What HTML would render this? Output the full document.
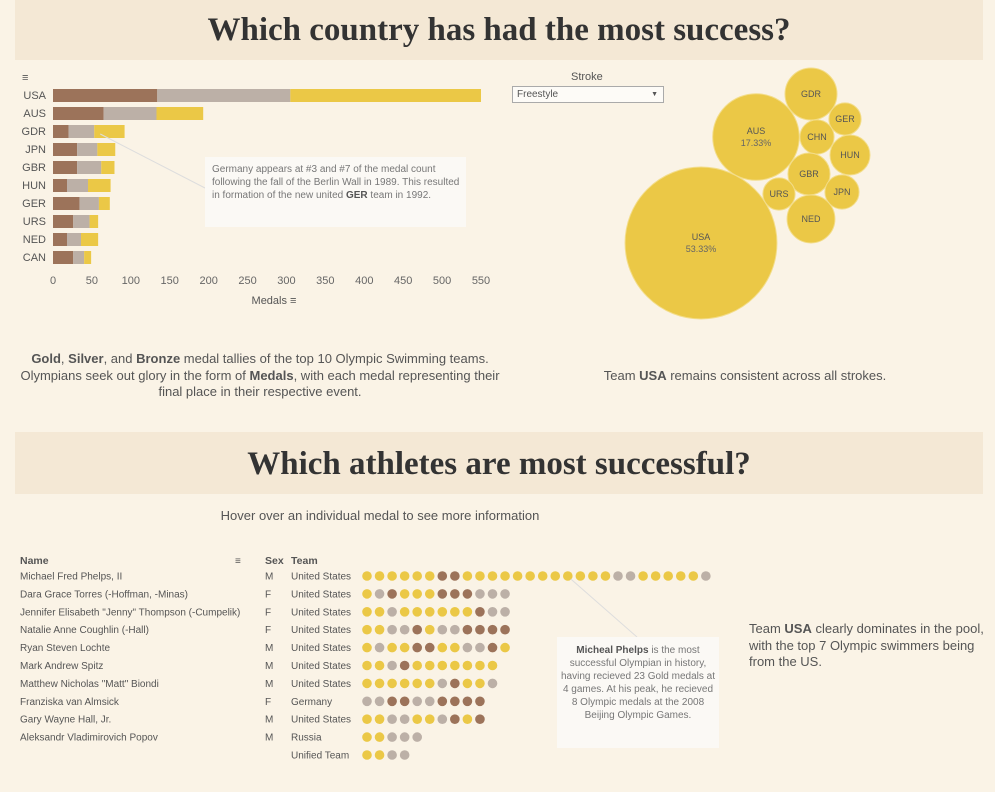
<!DOCTYPE html>
<html><head><meta charset="utf-8"><style>
body{margin:0;width:995px;height:792px;background:#faf3e6;font-family:"Liberation Sans",sans-serif;position:relative;overflow:hidden;color:#555}
.band{position:absolute;left:15px;width:968px;background:#f4e8d5;text-align:center;font-family:"Liberation Serif",serif;font-weight:bold;color:#333;font-size:33px}
.t{position:absolute;font-size:11px;color:#555;white-space:nowrap}
.note{position:absolute;background:#fbf9f5;color:#777;font-size:10px;line-height:13px}
.cap{position:absolute;font-size:13px;color:#555;text-align:center;line-height:16.5px}
</style></head><body>
<div class="band" style="top:0;height:60px;line-height:60px">Which country has had the most success?</div>
<div class="band" style="top:432px;height:62px;line-height:64px">Which athletes are most successful?</div>

<svg id="bar" width="995" height="330" style="position:absolute;left:0;top:0"></svg>
<div class="note" style="left:205px;top:157px;width:250px;height:64px;padding:6px 4px 0 7px">Germany appears at #3 and #7 of the medal count following the fall of the Berlin Wall in 1989. This resulted in formation of the new united <b style="color:#555">GER</b> team in 1992.</div>

<div class="t" style="left:571px;top:71px">Stroke</div>
<div style="position:absolute;left:512px;top:86px;width:146px;height:15px;border:1px solid #aaa;background:#fdfbf7;font-size:10px;line-height:15px;padding-left:4px;color:#555">Freestyle<span style="position:absolute;right:5px;top:0;font-size:7px">▼</span></div>
<svg id="bub" width="995" height="330" style="position:absolute;left:0;top:0;pointer-events:none"></svg>

<div class="cap" style="left:10px;top:351px;width:500px"><b>Gold</b>, <b>Silver</b>, and <b>Bronze</b> medal tallies of the top 10 Olympic Swimming teams. Olympians seek out glory in the form of <b>Medals</b>, with each medal representing their final place in their respective event.</div>
<div class="cap" style="left:560px;top:368px;width:370px">Team <b>USA</b> remains consistent across all strokes.</div>
<div class="cap" style="left:200px;top:508px;width:360px">Hover over an individual medal to see more information</div>

<svg id="dots" width="995" height="792" style="position:absolute;left:0;top:0"></svg>
<div class="note" style="left:557px;top:637px;width:158px;height:104px;padding:7px 2px 0 2px;text-align:center"><b style="color:#555">Micheal Phelps</b> is the most successful Olympian in history, having recieved 23 Gold medals at 4 games. At his peak, he recieved 8 Olympic medals at the 2008 Beijing Olympic Games.</div>
<div class="cap" style="left:749px;top:621px;width:235px;text-align:left">Team <b>USA</b> clearly dominates in the pool, with the top 7 Olympic swimmers being from the US.</div>

<script>
const NS="http://www.w3.org/2000/svg";
const countries=["USA","AUS","GDR","JPN","GBR","HUN","GER","URS","NED","CAN"];
const bronze=[134,65,20,31,31,18,34,26,18,26];
const silver=[171,68,33,26,31,27,25,21,18,14];
const gold=[245,60,39,23,17,29,14,11,22,9];
const ticks=[0,50,100,150,200,250,300,350,400,450,500,550];
const bubLabels=["USA","AUS","GDR","GER","CHN","HUN","GBR","JPN","URS","NED"];
const bubShare=[53.33,17.33,6.25,2.4,2.7,3.7,4.1,2.7,2.4,5.3];
const names=["Michael Fred Phelps, II","Dara Grace Torres (-Hoffman, -Minas)","Jennifer Elisabeth \"Jenny\" Thompson (-Cumpelik)","Natalie Anne Coughlin (-Hall)","Ryan Steven Lochte","Mark Andrew Spitz","Matthew Nicholas \"Matt\" Biondi","Franziska van Almsick","Gary Wayne Hall, Jr.","Aleksandr Vladimirovich Popov",""];
const sexes=["M","F","F","F","M","M","M","F","M","M",""];
const teams=["United States","United States","United States","United States","United States","United States","United States","Germany","United States","Russia","Unified Team"];
const medals=["GGGGGGBBGGGGGGGGGGGGSSGGGGGS","GSBGGGBBBSSS","GGSGGGGGGBSS","GGSSBGSSBBBB","GSGGBBGGSSBG","GGSBGGGGGGG","GGGGGGSBGGS","SSBBSSBBBB","GGSSGGSBGB","GGSSS","GGSS"];
const COL={G:"#ebc846",S:"#bcb0a7",B:"#9c735a"};
function mk(p,tag,a){const e=document.createElementNS(NS,tag);for(const k in a)e.setAttribute(k,a[k]);p.appendChild(e);return e;}
const bar=document.getElementById("bar");
const x=v=>53+v*(428/550), y=i=>89+i*18;
ticks.forEach(t=>{const e=mk(bar,"text",{x:x(t),y:284,"text-anchor":"middle","font-size":11,fill:"#666"});e.textContent=t;

});
const xt=mk(bar,"text",{x:274,y:304,"text-anchor":"middle","font-size":11,fill:"#555"});xt.textContent="Medals ≡";


const si=mk(bar,"text",{x:22,y:81,"font-size":11,fill:"#555"});si.textContent="≡";


countries.forEach((c,i)=>{
 const l=mk(bar,"text",{x:46,y:y(i)+10,"text-anchor":"end","font-size":11,fill:"#555"});l.textContent=c;
 
 
 let s=0;[[bronze,COL.B],[silver,COL.S],[gold,COL.G]].forEach(([arr,col])=>{
  const r=mk(bar,"rect",{x:x(s),y:y(i),width:x(s+arr[i])-x(s),height:13,fill:col});
  
  
  s+=arr[i];});
});
mk(bar,"line",{x1:x(bronze[2]+silver[2])+6,y1:y(2)+9,x2:205,y2:188,stroke:"#ddd"});
const bub=document.getElementById("bub");
const bpos=[[701,243],[756,137],[811,94],[845,119],[817,137],[850,155],[809,174],[842,192],[779,194],[811,219]];
bubLabels.forEach((c,i)=>{
 const r=10.4*Math.sqrt(bubShare[i]);
 const ci=mk(bub,"circle",{cx:bpos[i][0],cy:bpos[i][1],r:r,fill:"#ebc846",stroke:"#f3dd8a","stroke-width":1});
 
 
 const big=i<2;
 const t=mk(bub,"text",{x:bpos[i][0],y:bpos[i][1]+(big?-3:3),"text-anchor":"middle","font-size":9,fill:"#555"});t.textContent=c;
 
 
 if(big){const p=mk(bub,"text",{x:bpos[i][0],y:bpos[i][1]+9,"text-anchor":"middle","font-size":9,fill:"#666"});p.textContent=bubShare[i].toFixed(2)+"%";
 
 }
});
const dots=document.getElementById("dots");
[["Name",20],["Sex",265],["Team",291]].forEach(([h,xx])=>{const t=mk(dots,"text",{x:xx,y:564,"font-size":10.5,"font-weight":"bold",fill:"#555"});t.textContent=h;

});
const hi=mk(dots,"text",{x:235,y:564,"font-size":10,fill:"#555"});hi.textContent="≡";


const ry=i=>576+i*17.9;
names.forEach((n,i)=>{
 [[n,20],[sexes[i],265],[teams[i],291]].forEach(([s,xx])=>{const t=mk(dots,"text",{x:xx,y:ry(i)+3.5,"font-size":10,fill:"#555"});t.textContent=s;
 
 });
 [...medals[i]].forEach((m,j)=>{const c=mk(dots,"circle",{cx:367+j*12.55,cy:ry(i),r:4.8,fill:COL[m]});
 
 });
});
mk(dots,"line",{x1:367+16*12.55+3,y1:ry(0)+3,x2:637,y2:637,stroke:"#ddd"});
</script>
</body></html>
